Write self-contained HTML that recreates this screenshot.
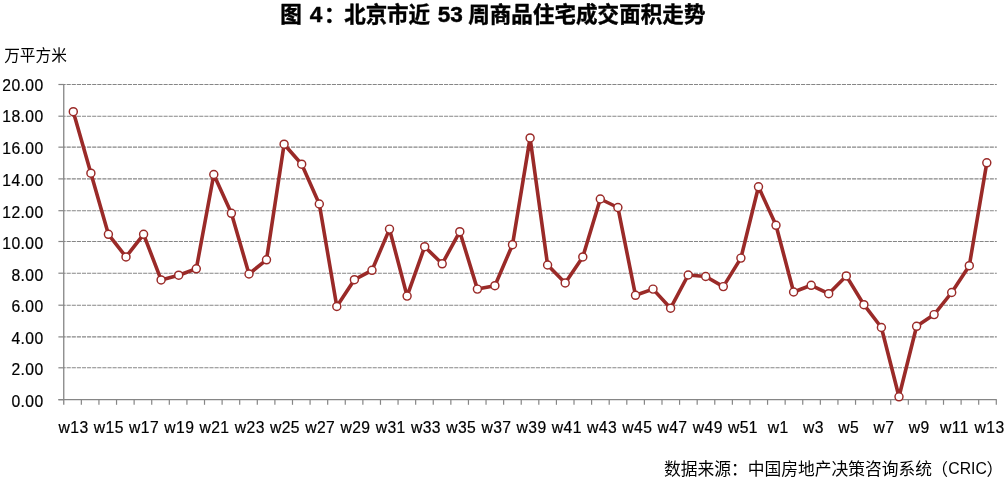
<!DOCTYPE html>
<html lang="zh"><head><meta charset="utf-8"><title>图 4：北京市近 53 周商品住宅成交面积走势</title>
<style>html,body{margin:0;padding:0;background:#fff}body{width:1007px;height:489px;overflow:hidden}svg{display:block}text{font-family:"Liberation Sans","Noto Sans CJK SC",sans-serif;fill:#000}.t text{font-size:21.5px;font-weight:bold}.t text.d{font-size:22.6px}.a{font-size:15.7px;letter-spacing:.4px;stroke:#000;stroke-width:.2px}.u{font-size:15.7px}.s{font-size:16.78px}.c{font-size:17.3px}</style></head><body>
<svg width="1007" height="489" viewBox="0 0 1007 489">
<rect width="1007" height="489" fill="#fff"/>
<g class="t" stroke="#000" stroke-width="0.45" stroke-linejoin="round"><text x="280.3" y="21.6">图</text><text class="d" x="309.8" y="21.6">4</text><text x="324" y="21.6">：</text><text x="344.2" y="21.6" textLength="85.8">北京市近</text><text class="d" x="437.8" y="21.6">53</text><text x="468.2" y="21.6" textLength="237.2">周商品住宅成交面积走势</text></g>
<text class="u" x="4.2" y="60.6">万平方米</text>
<line x1="63.75" y1="84.5" x2="996.8" y2="84.5" stroke="#868686" stroke-width="1.1" stroke-dasharray="4.1 1" stroke-dashoffset="2.2"/>
<line x1="63.75" y1="116.2" x2="996.8" y2="116.2" stroke="#868686" stroke-width="1.1" stroke-dasharray="4.1 1" stroke-dashoffset="2.2"/>
<line x1="63.75" y1="147.15" x2="996.8" y2="147.15" stroke="#868686" stroke-width="1.1" stroke-dasharray="4.1 1" stroke-dashoffset="2.2"/>
<line x1="63.75" y1="178.9" x2="996.8" y2="178.9" stroke="#868686" stroke-width="1.1" stroke-dasharray="4.1 1" stroke-dashoffset="2.2"/>
<line x1="63.75" y1="210.7" x2="996.8" y2="210.7" stroke="#868686" stroke-width="1.1" stroke-dasharray="4.1 1" stroke-dashoffset="2.2"/>
<line x1="63.75" y1="241.5" x2="996.8" y2="241.5" stroke="#868686" stroke-width="1.1" stroke-dasharray="4.1 1" stroke-dashoffset="2.2"/>
<line x1="63.75" y1="273.2" x2="996.8" y2="273.2" stroke="#868686" stroke-width="1.1" stroke-dasharray="4.1 1" stroke-dashoffset="2.2"/>
<line x1="63.75" y1="305.2" x2="996.8" y2="305.2" stroke="#868686" stroke-width="1.1" stroke-dasharray="4.1 1" stroke-dashoffset="2.2"/>
<line x1="63.75" y1="336.9" x2="996.8" y2="336.9" stroke="#868686" stroke-width="1.1" stroke-dasharray="4.1 1" stroke-dashoffset="2.2"/>
<line x1="63.75" y1="367.8" x2="996.8" y2="367.8" stroke="#868686" stroke-width="1.1" stroke-dasharray="4.1 1" stroke-dashoffset="2.2"/>
<line x1="58.4" y1="84.5" x2="63.75" y2="84.5" stroke="#868686" stroke-width="1.2"/>
<text class="a" x="43.6" y="91.1" text-anchor="end">20.00</text>
<line x1="58.4" y1="116.2" x2="63.75" y2="116.2" stroke="#868686" stroke-width="1.2"/>
<text class="a" x="43.6" y="122.1" text-anchor="end">18.00</text>
<line x1="58.4" y1="147.15" x2="63.75" y2="147.15" stroke="#868686" stroke-width="1.2"/>
<text class="a" x="43.6" y="154.1" text-anchor="end">16.00</text>
<line x1="58.4" y1="178.9" x2="63.75" y2="178.9" stroke="#868686" stroke-width="1.2"/>
<text class="a" x="43.6" y="186.0" text-anchor="end">14.00</text>
<line x1="58.4" y1="210.7" x2="63.75" y2="210.7" stroke="#868686" stroke-width="1.2"/>
<text class="a" x="43.6" y="217.5" text-anchor="end">12.00</text>
<line x1="58.4" y1="241.5" x2="63.75" y2="241.5" stroke="#868686" stroke-width="1.2"/>
<text class="a" x="43.6" y="249.0" text-anchor="end">10.00</text>
<line x1="58.4" y1="273.2" x2="63.75" y2="273.2" stroke="#868686" stroke-width="1.2"/>
<text class="a" x="43.6" y="280.7" text-anchor="end">8.00</text>
<line x1="58.4" y1="305.2" x2="63.75" y2="305.2" stroke="#868686" stroke-width="1.2"/>
<text class="a" x="43.6" y="312.2" text-anchor="end">6.00</text>
<line x1="58.4" y1="336.9" x2="63.75" y2="336.9" stroke="#868686" stroke-width="1.2"/>
<text class="a" x="43.6" y="343.8" text-anchor="end">4.00</text>
<line x1="58.4" y1="367.8" x2="63.75" y2="367.8" stroke="#868686" stroke-width="1.2"/>
<text class="a" x="43.6" y="375.2" text-anchor="end">2.00</text>
<line x1="58.4" y1="399.7" x2="63.75" y2="399.7" stroke="#868686" stroke-width="1.2"/>
<text class="a" x="43.6" y="407.0" text-anchor="end">0.00</text>
<line x1="63.75" y1="84" x2="63.75" y2="404.8" stroke="#868686" stroke-width="1.3"/>
<line x1="58.4" y1="399.7" x2="996.8" y2="399.7" stroke="#868686" stroke-width="1.3"/>
<line x1="81.35" y1="399.7" x2="81.35" y2="404.8" stroke="#868686" stroke-width="1.2"/>
<line x1="98.94" y1="399.7" x2="98.94" y2="404.8" stroke="#868686" stroke-width="1.2"/>
<line x1="116.54" y1="399.7" x2="116.54" y2="404.8" stroke="#868686" stroke-width="1.2"/>
<line x1="134.13" y1="399.7" x2="134.13" y2="404.8" stroke="#868686" stroke-width="1.2"/>
<line x1="151.73" y1="399.7" x2="151.73" y2="404.8" stroke="#868686" stroke-width="1.2"/>
<line x1="169.32" y1="399.7" x2="169.32" y2="404.8" stroke="#868686" stroke-width="1.2"/>
<line x1="186.92" y1="399.7" x2="186.92" y2="404.8" stroke="#868686" stroke-width="1.2"/>
<line x1="204.51" y1="399.7" x2="204.51" y2="404.8" stroke="#868686" stroke-width="1.2"/>
<line x1="222.11" y1="399.7" x2="222.11" y2="404.8" stroke="#868686" stroke-width="1.2"/>
<line x1="239.70" y1="399.7" x2="239.70" y2="404.8" stroke="#868686" stroke-width="1.2"/>
<line x1="257.30" y1="399.7" x2="257.30" y2="404.8" stroke="#868686" stroke-width="1.2"/>
<line x1="274.89" y1="399.7" x2="274.89" y2="404.8" stroke="#868686" stroke-width="1.2"/>
<line x1="292.49" y1="399.7" x2="292.49" y2="404.8" stroke="#868686" stroke-width="1.2"/>
<line x1="310.08" y1="399.7" x2="310.08" y2="404.8" stroke="#868686" stroke-width="1.2"/>
<line x1="327.68" y1="399.7" x2="327.68" y2="404.8" stroke="#868686" stroke-width="1.2"/>
<line x1="345.27" y1="399.7" x2="345.27" y2="404.8" stroke="#868686" stroke-width="1.2"/>
<line x1="362.87" y1="399.7" x2="362.87" y2="404.8" stroke="#868686" stroke-width="1.2"/>
<line x1="380.47" y1="399.7" x2="380.47" y2="404.8" stroke="#868686" stroke-width="1.2"/>
<line x1="398.06" y1="399.7" x2="398.06" y2="404.8" stroke="#868686" stroke-width="1.2"/>
<line x1="415.66" y1="399.7" x2="415.66" y2="404.8" stroke="#868686" stroke-width="1.2"/>
<line x1="433.25" y1="399.7" x2="433.25" y2="404.8" stroke="#868686" stroke-width="1.2"/>
<line x1="450.85" y1="399.7" x2="450.85" y2="404.8" stroke="#868686" stroke-width="1.2"/>
<line x1="468.44" y1="399.7" x2="468.44" y2="404.8" stroke="#868686" stroke-width="1.2"/>
<line x1="486.04" y1="399.7" x2="486.04" y2="404.8" stroke="#868686" stroke-width="1.2"/>
<line x1="503.63" y1="399.7" x2="503.63" y2="404.8" stroke="#868686" stroke-width="1.2"/>
<line x1="521.23" y1="399.7" x2="521.23" y2="404.8" stroke="#868686" stroke-width="1.2"/>
<line x1="538.82" y1="399.7" x2="538.82" y2="404.8" stroke="#868686" stroke-width="1.2"/>
<line x1="556.42" y1="399.7" x2="556.42" y2="404.8" stroke="#868686" stroke-width="1.2"/>
<line x1="574.01" y1="399.7" x2="574.01" y2="404.8" stroke="#868686" stroke-width="1.2"/>
<line x1="591.61" y1="399.7" x2="591.61" y2="404.8" stroke="#868686" stroke-width="1.2"/>
<line x1="609.20" y1="399.7" x2="609.20" y2="404.8" stroke="#868686" stroke-width="1.2"/>
<line x1="626.80" y1="399.7" x2="626.80" y2="404.8" stroke="#868686" stroke-width="1.2"/>
<line x1="644.39" y1="399.7" x2="644.39" y2="404.8" stroke="#868686" stroke-width="1.2"/>
<line x1="661.99" y1="399.7" x2="661.99" y2="404.8" stroke="#868686" stroke-width="1.2"/>
<line x1="679.58" y1="399.7" x2="679.58" y2="404.8" stroke="#868686" stroke-width="1.2"/>
<line x1="697.18" y1="399.7" x2="697.18" y2="404.8" stroke="#868686" stroke-width="1.2"/>
<line x1="714.78" y1="399.7" x2="714.78" y2="404.8" stroke="#868686" stroke-width="1.2"/>
<line x1="732.37" y1="399.7" x2="732.37" y2="404.8" stroke="#868686" stroke-width="1.2"/>
<line x1="749.97" y1="399.7" x2="749.97" y2="404.8" stroke="#868686" stroke-width="1.2"/>
<line x1="767.56" y1="399.7" x2="767.56" y2="404.8" stroke="#868686" stroke-width="1.2"/>
<line x1="785.16" y1="399.7" x2="785.16" y2="404.8" stroke="#868686" stroke-width="1.2"/>
<line x1="802.75" y1="399.7" x2="802.75" y2="404.8" stroke="#868686" stroke-width="1.2"/>
<line x1="820.35" y1="399.7" x2="820.35" y2="404.8" stroke="#868686" stroke-width="1.2"/>
<line x1="837.94" y1="399.7" x2="837.94" y2="404.8" stroke="#868686" stroke-width="1.2"/>
<line x1="855.54" y1="399.7" x2="855.54" y2="404.8" stroke="#868686" stroke-width="1.2"/>
<line x1="873.13" y1="399.7" x2="873.13" y2="404.8" stroke="#868686" stroke-width="1.2"/>
<line x1="890.73" y1="399.7" x2="890.73" y2="404.8" stroke="#868686" stroke-width="1.2"/>
<line x1="908.32" y1="399.7" x2="908.32" y2="404.8" stroke="#868686" stroke-width="1.2"/>
<line x1="925.92" y1="399.7" x2="925.92" y2="404.8" stroke="#868686" stroke-width="1.2"/>
<line x1="943.51" y1="399.7" x2="943.51" y2="404.8" stroke="#868686" stroke-width="1.2"/>
<line x1="961.11" y1="399.7" x2="961.11" y2="404.8" stroke="#868686" stroke-width="1.2"/>
<line x1="978.70" y1="399.7" x2="978.70" y2="404.8" stroke="#868686" stroke-width="1.2"/>
<line x1="996.30" y1="399.7" x2="996.30" y2="404.8" stroke="#868686" stroke-width="1.2"/>
<text class="a" x="73.6" y="432.9" text-anchor="middle">w13</text>
<text class="a" x="108.8" y="432.9" text-anchor="middle">w15</text>
<text class="a" x="144.1" y="432.9" text-anchor="middle">w17</text>
<text class="a" x="179.3" y="432.9" text-anchor="middle">w19</text>
<text class="a" x="214.5" y="432.9" text-anchor="middle">w21</text>
<text class="a" x="249.8" y="432.9" text-anchor="middle">w23</text>
<text class="a" x="285.0" y="432.9" text-anchor="middle">w25</text>
<text class="a" x="320.2" y="432.9" text-anchor="middle">w27</text>
<text class="a" x="355.5" y="432.9" text-anchor="middle">w29</text>
<text class="a" x="390.7" y="432.9" text-anchor="middle">w31</text>
<text class="a" x="425.9" y="432.9" text-anchor="middle">w33</text>
<text class="a" x="461.2" y="432.9" text-anchor="middle">w35</text>
<text class="a" x="496.4" y="432.9" text-anchor="middle">w37</text>
<text class="a" x="531.6" y="432.9" text-anchor="middle">w39</text>
<text class="a" x="566.8" y="432.9" text-anchor="middle">w41</text>
<text class="a" x="602.1" y="432.9" text-anchor="middle">w43</text>
<text class="a" x="637.3" y="432.9" text-anchor="middle">w45</text>
<text class="a" x="672.5" y="432.9" text-anchor="middle">w47</text>
<text class="a" x="707.8" y="432.9" text-anchor="middle">w49</text>
<text class="a" x="743.0" y="432.9" text-anchor="middle">w51</text>
<text class="a" x="778.2" y="432.9" text-anchor="middle">w1</text>
<text class="a" x="813.5" y="432.9" text-anchor="middle">w3</text>
<text class="a" x="848.7" y="432.9" text-anchor="middle">w5</text>
<text class="a" x="883.9" y="432.9" text-anchor="middle">w7</text>
<text class="a" x="919.2" y="432.9" text-anchor="middle">w9</text>
<text class="a" x="954.4" y="432.9" text-anchor="middle">w11</text>
<text class="a" x="989.6" y="432.9" text-anchor="middle">w13</text>
<polyline points="73.3,111.7 90.9,173.2 108.4,234.3 126.0,256.9 143.6,234.3 161.1,279.9 178.7,275.2 196.3,268.8 213.8,174.5 231.4,213.3 249.0,274.0 266.5,259.8 284.1,144.2 301.7,164.2 319.3,204.0 336.8,306.5 354.4,279.7 372.0,270.3 389.5,229.1 407.1,296.1 424.7,246.7 442.2,263.8 459.8,231.7 477.4,289.1 494.9,285.7 512.5,244.7 530.1,137.9 547.6,265.0 565.2,282.9 582.8,256.9 600.3,199.0 617.9,207.5 635.5,295.3 653.0,289.1 670.6,308.2 688.2,275.0 705.7,276.5 723.3,286.6 740.9,258.1 758.5,186.8 776.0,225.3 793.6,292.0 811.2,285.3 828.7,293.7 846.3,275.9 863.9,304.7 881.4,327.5 899.0,396.8 916.6,326.3 934.1,314.6 951.7,292.5 969.3,265.7 986.8,162.8" fill="none" stroke="#9a2a28" stroke-width="3.6" stroke-linejoin="round" stroke-linecap="round"/>
<circle cx="73.3" cy="111.7" r="4.0" fill="#fff" stroke="#9a2a28" stroke-width="1.45"/>
<circle cx="90.9" cy="173.2" r="4.0" fill="#fff" stroke="#9a2a28" stroke-width="1.45"/>
<circle cx="108.4" cy="234.3" r="4.0" fill="#fff" stroke="#9a2a28" stroke-width="1.45"/>
<circle cx="126.0" cy="256.9" r="4.0" fill="#fff" stroke="#9a2a28" stroke-width="1.45"/>
<circle cx="143.6" cy="234.3" r="4.0" fill="#fff" stroke="#9a2a28" stroke-width="1.45"/>
<circle cx="161.1" cy="279.9" r="4.0" fill="#fff" stroke="#9a2a28" stroke-width="1.45"/>
<circle cx="178.7" cy="275.2" r="4.0" fill="#fff" stroke="#9a2a28" stroke-width="1.45"/>
<circle cx="196.3" cy="268.8" r="4.0" fill="#fff" stroke="#9a2a28" stroke-width="1.45"/>
<circle cx="213.8" cy="174.5" r="4.0" fill="#fff" stroke="#9a2a28" stroke-width="1.45"/>
<circle cx="231.4" cy="213.3" r="4.0" fill="#fff" stroke="#9a2a28" stroke-width="1.45"/>
<circle cx="249.0" cy="274.0" r="4.0" fill="#fff" stroke="#9a2a28" stroke-width="1.45"/>
<circle cx="266.5" cy="259.8" r="4.0" fill="#fff" stroke="#9a2a28" stroke-width="1.45"/>
<circle cx="284.1" cy="144.2" r="4.0" fill="#fff" stroke="#9a2a28" stroke-width="1.45"/>
<circle cx="301.7" cy="164.2" r="4.0" fill="#fff" stroke="#9a2a28" stroke-width="1.45"/>
<circle cx="319.3" cy="204.0" r="4.0" fill="#fff" stroke="#9a2a28" stroke-width="1.45"/>
<circle cx="336.8" cy="306.5" r="4.0" fill="#fff" stroke="#9a2a28" stroke-width="1.45"/>
<circle cx="354.4" cy="279.7" r="4.0" fill="#fff" stroke="#9a2a28" stroke-width="1.45"/>
<circle cx="372.0" cy="270.3" r="4.0" fill="#fff" stroke="#9a2a28" stroke-width="1.45"/>
<circle cx="389.5" cy="229.1" r="4.0" fill="#fff" stroke="#9a2a28" stroke-width="1.45"/>
<circle cx="407.1" cy="296.1" r="4.0" fill="#fff" stroke="#9a2a28" stroke-width="1.45"/>
<circle cx="424.7" cy="246.7" r="4.0" fill="#fff" stroke="#9a2a28" stroke-width="1.45"/>
<circle cx="442.2" cy="263.8" r="4.0" fill="#fff" stroke="#9a2a28" stroke-width="1.45"/>
<circle cx="459.8" cy="231.7" r="4.0" fill="#fff" stroke="#9a2a28" stroke-width="1.45"/>
<circle cx="477.4" cy="289.1" r="4.0" fill="#fff" stroke="#9a2a28" stroke-width="1.45"/>
<circle cx="494.9" cy="285.7" r="4.0" fill="#fff" stroke="#9a2a28" stroke-width="1.45"/>
<circle cx="512.5" cy="244.7" r="4.0" fill="#fff" stroke="#9a2a28" stroke-width="1.45"/>
<circle cx="530.1" cy="137.9" r="4.0" fill="#fff" stroke="#9a2a28" stroke-width="1.45"/>
<circle cx="547.6" cy="265.0" r="4.0" fill="#fff" stroke="#9a2a28" stroke-width="1.45"/>
<circle cx="565.2" cy="282.9" r="4.0" fill="#fff" stroke="#9a2a28" stroke-width="1.45"/>
<circle cx="582.8" cy="256.9" r="4.0" fill="#fff" stroke="#9a2a28" stroke-width="1.45"/>
<circle cx="600.3" cy="199.0" r="4.0" fill="#fff" stroke="#9a2a28" stroke-width="1.45"/>
<circle cx="617.9" cy="207.5" r="4.0" fill="#fff" stroke="#9a2a28" stroke-width="1.45"/>
<circle cx="635.5" cy="295.3" r="4.0" fill="#fff" stroke="#9a2a28" stroke-width="1.45"/>
<circle cx="653.0" cy="289.1" r="4.0" fill="#fff" stroke="#9a2a28" stroke-width="1.45"/>
<circle cx="670.6" cy="308.2" r="4.0" fill="#fff" stroke="#9a2a28" stroke-width="1.45"/>
<circle cx="688.2" cy="275.0" r="4.0" fill="#fff" stroke="#9a2a28" stroke-width="1.45"/>
<circle cx="705.7" cy="276.5" r="4.0" fill="#fff" stroke="#9a2a28" stroke-width="1.45"/>
<circle cx="723.3" cy="286.6" r="4.0" fill="#fff" stroke="#9a2a28" stroke-width="1.45"/>
<circle cx="740.9" cy="258.1" r="4.0" fill="#fff" stroke="#9a2a28" stroke-width="1.45"/>
<circle cx="758.5" cy="186.8" r="4.0" fill="#fff" stroke="#9a2a28" stroke-width="1.45"/>
<circle cx="776.0" cy="225.3" r="4.0" fill="#fff" stroke="#9a2a28" stroke-width="1.45"/>
<circle cx="793.6" cy="292.0" r="4.0" fill="#fff" stroke="#9a2a28" stroke-width="1.45"/>
<circle cx="811.2" cy="285.3" r="4.0" fill="#fff" stroke="#9a2a28" stroke-width="1.45"/>
<circle cx="828.7" cy="293.7" r="4.0" fill="#fff" stroke="#9a2a28" stroke-width="1.45"/>
<circle cx="846.3" cy="275.9" r="4.0" fill="#fff" stroke="#9a2a28" stroke-width="1.45"/>
<circle cx="863.9" cy="304.7" r="4.0" fill="#fff" stroke="#9a2a28" stroke-width="1.45"/>
<circle cx="881.4" cy="327.5" r="4.0" fill="#fff" stroke="#9a2a28" stroke-width="1.45"/>
<circle cx="899.0" cy="396.8" r="4.0" fill="#fff" stroke="#9a2a28" stroke-width="1.45"/>
<circle cx="916.6" cy="326.3" r="4.0" fill="#fff" stroke="#9a2a28" stroke-width="1.45"/>
<circle cx="934.1" cy="314.6" r="4.0" fill="#fff" stroke="#9a2a28" stroke-width="1.45"/>
<circle cx="951.7" cy="292.5" r="4.0" fill="#fff" stroke="#9a2a28" stroke-width="1.45"/>
<circle cx="969.3" cy="265.7" r="4.0" fill="#fff" stroke="#9a2a28" stroke-width="1.45"/>
<circle cx="986.8" cy="162.8" r="4.0" fill="#fff" stroke="#9a2a28" stroke-width="1.45"/>
<text class="s" x="663.9" y="475">数据来源：中国房地产决策咨询系统</text><text class="s" x="931.3" y="476">（</text><text class="c" x="948.3" y="473.9" textLength="38.6" lengthAdjust="spacingAndGlyphs">CRIC</text><text class="s" x="986.5" y="476">）</text>
</svg></body></html>
